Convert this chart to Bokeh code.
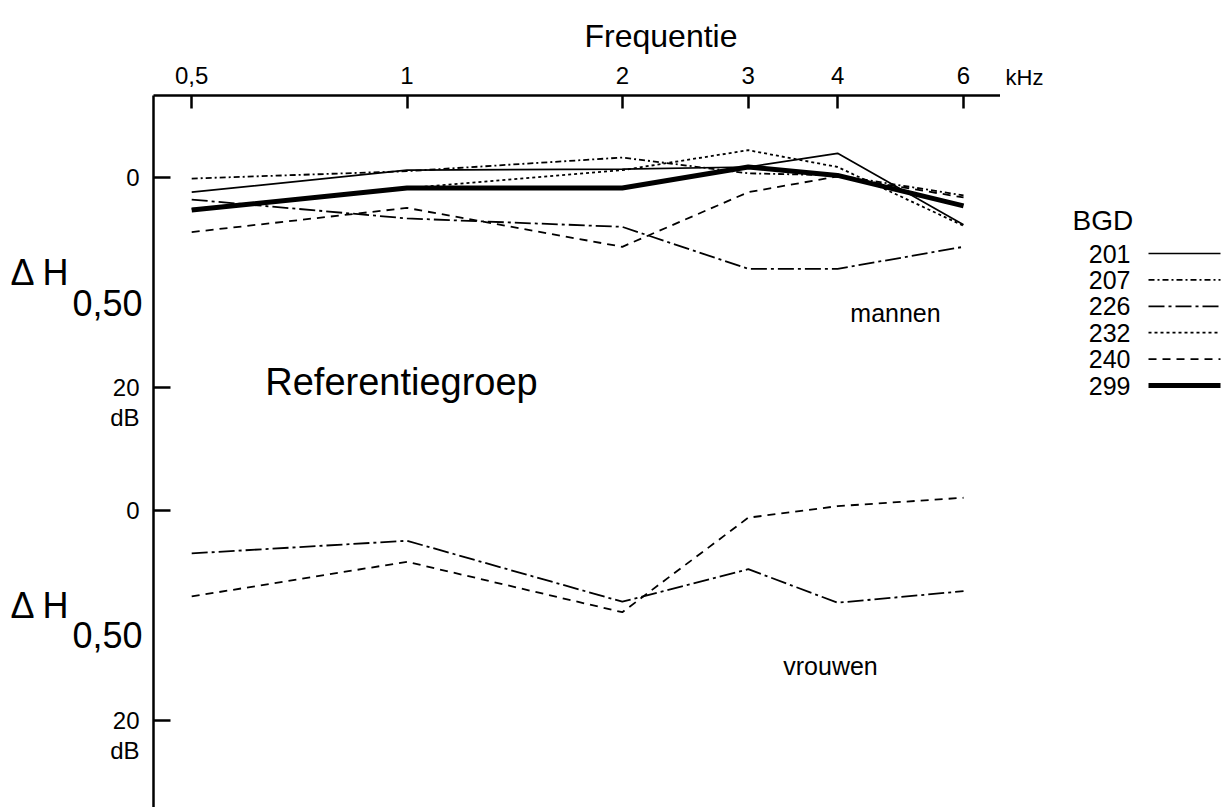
from bokeh.plotting import figure
from bokeh.models import Range1d, FixedTicker, CustomJSTickFormatter, Title
from bokeh.layouts import row
from bokeh.embed import file_html
from bokeh.resources import INLINE
from bokeh.core.properties import value

# ---------------- data ----------------
freqs = [0.5, 1, 2, 3, 4, 6]              # kHz
freq_ticks = [0.5, 1, 2, 3, 4, 6]

# mannen (Delta H 0,50 in dB, positive = downwards)
m201 = [1.4, -0.7, -0.8, -1.0, -2.3, 4.5]
m207 = [0.1, -0.6, -1.9, -0.4, -0.2, 1.7]
m226 = [2.1, 3.9, 4.7, 8.7, 8.7, 6.6]
m232 = [3.0, 1.0, -0.7, -2.6, -1.0, 4.6]
m240 = [5.2, 2.9, 6.6, 1.4, -0.1, 1.9]
m299 = [3.1, 1.0, 1.0, -1.0, -0.2, 2.7]

# vrouwen
v226 = [4.1, 2.9, 8.7, 5.6, 8.8, 7.7]
v240 = [8.2, 4.9, 9.7, 0.7, -0.4, -1.2]

series_ids = ["201", "207", "226", "232", "240", "299"]
men_values = [m201, m207, m226, m232, m240, m299]
women_ids = ["226", "240"]
women_values = [v226, v240]
y_tick_values = [0, 20]
y_tick_labels = ["0", "20"]

# ---------------- styles / layout ----------------
styles = {
    "201": dict(line_width=1.7, line_dash="solid"),
    "207": dict(line_width=1.8, line_dash="6 3 2 3"),
    "226": dict(line_width=1.8, line_dash="16 4 3 4"),
    "232": dict(line_width=1.8, line_dash="3 3"),
    "240": dict(line_width=1.8, line_dash="8 6"),
    "299": dict(line_width=5, line_dash="solid"),
}

FONT = "Liberation Sans"
OFF = 31.7            # vertical offset of the vrouwen panel (dB units)
DB_SHIFT = 2.9        # "dB" unit text below the 20 tick (dB units)
PX_OCT = 215.3        # pixels per octave
PX_1K = 406.5         # pixel position of 1 kHz
PX_DB = 10.5          # pixels per dB
LEFT_W = 143


def xd(px):
    return 2 ** ((px - PX_1K) / PX_OCT)


def yd(py):
    return (py - 177) / PX_DB


yr = Range1d(yd(807), yd(95))

p = figure(width=857, height=807, x_axis_type="log", x_axis_location="above",
           x_range=Range1d(xd(153), xd(1000)), y_range=yr,
           min_border_left=10, min_border_right=0, min_border_top=95, min_border_bottom=0,
           output_backend="svg", toolbar_location=None, outline_line_color=None)
p.grid.visible = False
p.title = Title(text="Frequentie", align="left", offset=431, standoff=19, text_font=FONT,
                text_font_size="32px", text_font_style="normal", text_color="black")

# x axis (top)
xa = p.xaxis[0]
xa.ticker = FixedTicker(ticks=freq_ticks)
xa.formatter = CustomJSTickFormatter(code="return String(tick).replace('.', ',');")
xa.major_tick_in = 13
xa.major_tick_out = 0
xa.minor_tick_line_color = None
xa.axis_line_width = 2.5
xa.major_tick_line_width = 2.5
xa.major_label_text_font = FONT
xa.major_label_text_font_size = "24px"
xa.major_label_text_color = "black"
xa.major_label_standoff = 12

# y axis (left): line and inward ticks; its labels are drawn in the left panel
ya = p.yaxis[0]
ya.ticker = FixedTicker(ticks=[v for v in y_tick_values] + [v + OFF for v in y_tick_values])
ya.formatter = CustomJSTickFormatter(code="return '';")
ya.major_tick_in = 17
ya.major_tick_out = 0
ya.minor_tick_line_color = None
ya.axis_line_width = 2.5
ya.major_tick_line_width = 2.5
ya.major_label_standoff = 0

# lines
for sid, vals in zip(series_ids, men_values):
    p.line(freqs, vals, line_color="black", **styles[sid])
for sid, vals in zip(women_ids, women_values):
    p.line(freqs, [v + OFF for v in vals], line_color="black", **styles[sid])


def ptext(fig, x, y, text, size, align="left"):
    fig.text(x=[x], y=[y], text=[text], text_font=value(FONT), text_font_size=size,
             text_align=align, text_baseline="middle", text_color="black")


ptext(p, xd(401), yd(381), "Referentiegroep", "38px", "center")
ptext(p, xd(895), yd(312), "mannen", "25px", "center")
ptext(p, xd(830), yd(665), "vrouwen", "25px", "center")

# left panel: y labels and Delta H titles (shares the y scale)
L = figure(width=LEFT_W, height=807, x_range=Range1d(0, LEFT_W), y_range=yr,
           min_border=0, output_backend="svg", toolbar_location=None, outline_line_color=None)
L.axis.visible = False
L.grid.visible = False
for base in (0, OFF):
    for tv, tl in zip(y_tick_values, y_tick_labels):
        ptext(L, 139, tv + base, tl, "24px", "right")
    ptext(L, 139, y_tick_values[1] + base + DB_SHIFT, "dB", "24px", "right")
    ptext(L, 10, yd(272) + base, "\u0394 H", "36px", "left")
    ptext(L, 72, yd(302) + base, "0,50", "36px", "left")

# legend panel
q = figure(width=228, height=807, x_range=Range1d(1000, 1228), y_range=Range1d(807, 95),
           min_border=0, output_backend="svg", toolbar_location=None, outline_line_color=None)
q.axis.visible = False
q.grid.visible = False
q.title = Title(text="kHz", align="left", offset=5, standoff=11, text_font=FONT,
                text_font_size="22px", text_font_style="normal", text_color="black")
ptext(q, 1072, 220, "BGD", "28px", "left")
for i, sid in enumerate(series_ids):
    yy = 253 + 26.4 * i
    ptext(q, 1130, yy, sid, "25px", "right")
    q.line([1148, 1220], [yy, yy], line_color="black",
           line_width=styles[sid]["line_width"], line_dash=styles[sid]["line_dash"])

layout = row(L, p, q)
open("out.html", "w").write(file_html(layout, INLINE))
